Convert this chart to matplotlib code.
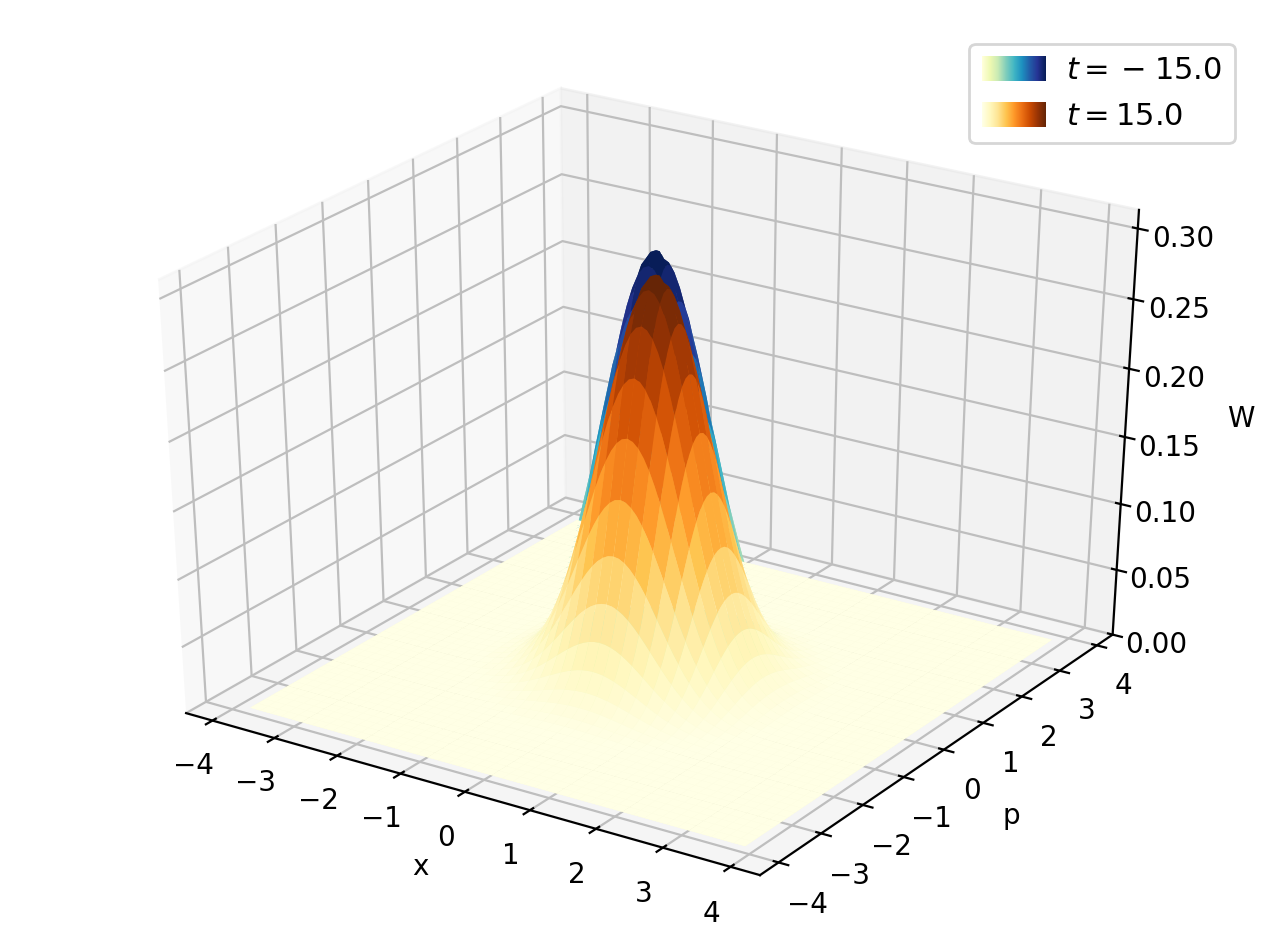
import numpy as np
import matplotlib
matplotlib.use('Agg')
import matplotlib.pyplot as plt
from matplotlib.patches import Rectangle
from matplotlib.legend_handler import HandlerBase

plt.rcParams['grid.color'] = '#bebebe'

# half profiles, from the centre outwards (step 1/12, out to 3.8333)
half_grid = [0.0, 0.0833, 0.1667, 0.25, 0.3333, 0.4167, 0.5, 0.5833, 0.6667, 0.75, 0.8333, 0.9167,
             1.0, 1.0833, 1.1667, 1.25, 1.3333, 1.4167, 1.5, 1.5833, 1.6667, 1.75, 1.8333, 1.9167,
             2.0, 2.0833, 2.1667, 2.25, 2.3333, 2.4167, 2.5, 2.5833, 2.6667, 2.75, 2.8333, 2.9167,
             3.0, 3.0833, 3.1667, 3.25, 3.3333, 3.4167, 3.5, 3.5833, 3.6667, 3.75, 3.8333]
profile_before = [1.0, 0.9933, 0.9732, 0.9405, 0.8965, 0.843, 0.782, 0.7155, 0.6456, 0.5745, 0.5042, 0.4365,
                  0.3728, 0.314, 0.261, 0.2139, 0.1729, 0.1379, 0.1085, 0.0841, 0.0644, 0.0486, 0.0362, 0.0266,
                  0.0192, 0.0137, 0.0096, 0.0067, 0.0046, 0.0031, 0.002, 0.0014, 0.0009, 0.0005, 0.0003, 0.0002,
                  0.0001, 0.0, 0.0, 0.0, 0.0, 0.0, 0.0, 0.0, 0.0, 0.0, 0.0]
profile_after = [1.0, 0.9931, 0.9726, 0.9394, 0.8948, 0.8406, 0.7788, 0.7116, 0.6412, 0.5698, 0.4994, 0.4316,
                 0.3679, 0.3092, 0.2564, 0.2096, 0.169, 0.1344, 0.1054, 0.0815, 0.0622, 0.0468, 0.0347, 0.0254,
                 0.0183, 0.013, 0.0091, 0.0063, 0.0043, 0.0029, 0.0019, 0.0013, 0.0008, 0.0005, 0.0003, 0.0002,
                 0.0001, 0.0, 0.0, 0.0, 0.0, 0.0, 0.0, 0.0, 0.0, 0.0, 0.0]
peak_before = 0.309
peak_after = 0.292
ticks_xy = [-4, -3, -2, -1, 0, 1, 2, 3, 4]
ticks_z = [0.00, 0.05, 0.10, 0.15, 0.20, 0.25, 0.30]
labels = [r'$t =\,{-}\;15.0$', r'$t = 15.0$']
cmap_names = ['YlGnBu', 'YlOrBr']


class GradientHandler(HandlerBase):
    def __init__(self, cmap):
        super().__init__()
        self.cmap = plt.get_cmap(cmap)

    def create_artists(self, legend, orig_handle, xdescent, ydescent, width, height, fontsize, trans):
        n = 64
        h = height * 1.17
        y0 = -ydescent - (h - height) / 2
        rects = []
        for i in range(n):
            rects.append(Rectangle((-xdescent + i * width / n, y0), width / n + 0.1, h,
                                   facecolor=self.cmap(i / (n - 1)), edgecolor='none', transform=trans))
        return rects


def mirror(half):
    half = np.array(half)
    return np.r_[half[:0:-1], half]


x = np.r_[-np.array(half_grid)[:0:-1], half_grid]
X, P = np.meshgrid(x, x)
W_before = peak_before * np.outer(mirror(profile_before), mirror(profile_before))
W_after = peak_after * np.outer(mirror(profile_after), mirror(profile_after))

fig = plt.figure(figsize=(6.4, 4.76), dpi=200)
ax = fig.add_axes([0.0817, 0.0777, 0.839, 0.845], projection='3d', computed_zorder=False)
# keep the axes box non square, the projection gets squeezed to it
ax.apply_aspect = lambda position=None: None
ax.set_box_aspect((1, 1, 0.96), zoom=1.276)
ax.view_init(elev=30, azim=-56.8)
# weaker perspective than the default
ax._dist = 12

s1 = ax.plot_surface(X, P, W_before, rstride=2, cstride=2, cmap=cmap_names[0], linewidth=0, zorder=1)
s2 = ax.plot_surface(X, P, W_after, rstride=2, cstride=2, cmap=cmap_names[1], linewidth=0, zorder=2)
s1.set_clip_on(False)
s2.set_clip_on(False)

ax.set_xlim(-4.43, 4.43)
ax.set_ylim(-4.43, 4.43)
ax.set_zlim(0, 0.313)
ax.set_xticks(ticks_xy)
ax.set_yticks(ticks_xy)
ax.set_zticks(ticks_z)
ax.tick_params(axis='x', pad=0.5)
ax.tick_params(axis='y', pad=0.5)
ax.tick_params(axis='z', pad=0.5)
ax.set_xlabel('x', labelpad=-1)
ax.set_ylabel('p', labelpad=-0.5)
ax.set_zlabel('W', labelpad=1)

h1 = Rectangle((0, 0), 1, 1)
h2 = Rectangle((0, 0), 1, 1)
fig.legend([h1, h2], labels, handler_map={h1: GradientHandler(cmap_names[0]), h2: GradientHandler(cmap_names[1])},
           loc='upper right', bbox_to_anchor=(0.9645, 0.9538), borderaxespad=0, fontsize=11, handlelength=2.1,
           handletextpad=0.67, labelspacing=0.55)

fig.savefig('out.png', dpi=200)
